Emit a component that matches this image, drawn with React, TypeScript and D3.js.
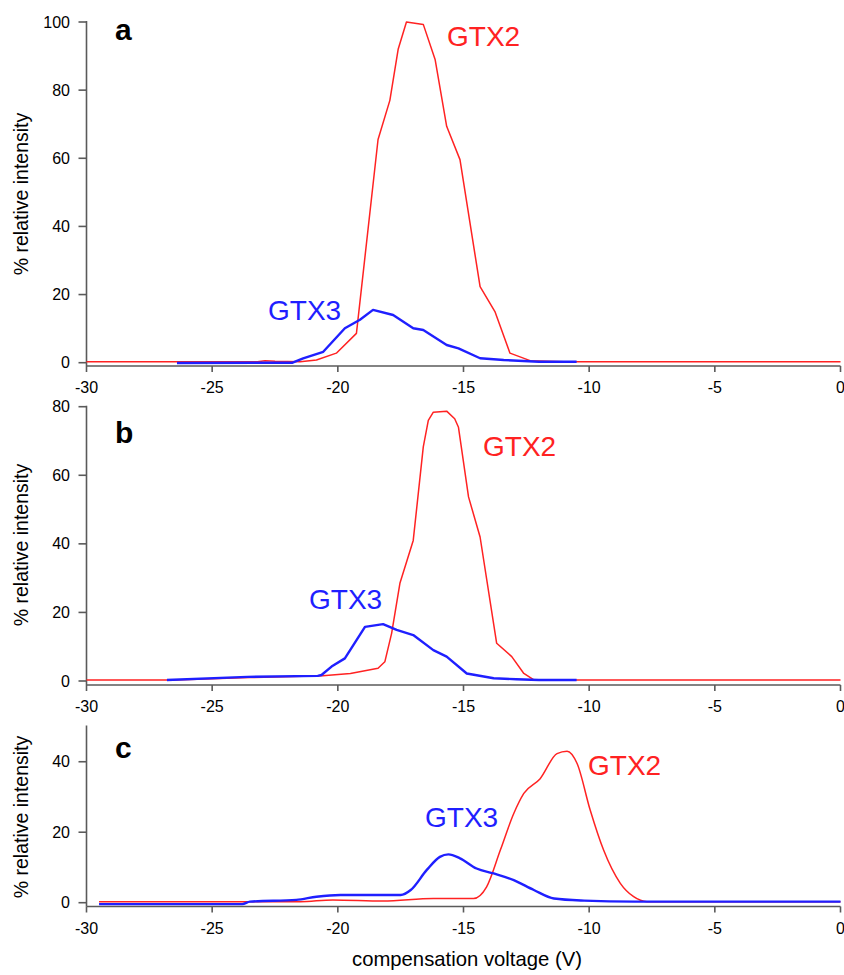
import React from "react";
import * as d3 from "d3";

type Pt = [number, number];

// Panel a
const gtx2A: Pt[] = [[-30,0.3],[-23.2,0.3],[-22.9,0.6],[-22.5,0.4],[-21.5,0.3],[-20.85,0.8],[-20.06,2.8],[-19.26,8.6],[-18.4,65.5],[-17.93,77],[-17.6,92],[-17.27,100],[-16.6,99.3],[-16.13,89],[-15.67,69.4],[-15.14,59.6],[-14.34,22.3],[-13.75,15],[-13.15,2.8],[-12.35,0.6],[-11,0.3],[0,0.3]];
const gtx3A: Pt[] = [[-26.4,-0.1],[-21.8,0.0],[-21.38,1.3],[-20.58,3.2],[-19.72,10.1],[-19.12,12.6],[-18.6,15.5],[-17.8,14],[-17.0,10.1],[-16.6,9.6],[-15.67,5.2],[-15.2,4.2],[-14.34,1.3],[-13.4,0.8],[-12,0.3],[-10.5,0.3]];
// Panel b
const gtx2B: Pt[] = [[-30,0.3],[-26.5,0.3],[-23.5,1.0],[-20.6,1.5],[-19.5,2.2],[-18.4,3.7],[-18.13,5.6],[-17.86,13.9],[-17.53,28.5],[-17.0,41],[-16.6,68.3],[-16.4,76],[-16.2,78.4],[-15.67,78.7],[-15.35,76.5],[-15.2,74],[-14.8,53.7],[-14.34,42],[-13.68,11],[-13.08,7.1],[-12.6,2.2],[-12.2,0.3],[0,0.3]];
const gtx3B: Pt[] = [[-26.8,0.3],[-23.6,1.2],[-20.8,1.5],[-20.65,1.75],[-20.25,4.2],[-19.72,6.6],[-18.92,15.8],[-18.2,16.6],[-17.66,14.9],[-17.0,13.4],[-16.2,9],[-15.67,7.1],[-14.87,2.2],[-13.8,0.8],[-12.9,0.5],[-12,0.3],[-10.5,0.3]];
// Panel c
const gtx2C: Pt[] = [[-29.5,0.3],[-21.5,0.3],[-20.2,0.8],[-18.2,0.5],[-16.2,1.2],[-14.6,1.2],[-14.08,4.5],[-13.53,15],[-13.0,25.3],[-12.6,31],[-11.95,35.2],[-11.28,42.3],[-10.88,43],[-10.48,39.5],[-9.96,26.3],[-9.43,15],[-8.76,5.5],[-8.23,1.7],[-7.7,0.3],[0,0.3]];
const gtx3C: Pt[] = [[-29.5,-0.4],[-23.8,-0.4],[-23.5,0.3],[-21.65,0.8],[-20.85,1.7],[-19.9,2.2],[-17.5,2.2],[-17.1,3.6],[-16.46,9.3],[-15.94,13],[-15.6,13.7],[-15.14,12.6],[-14.48,9.7],[-13.8,8.3],[-13.0,6.4],[-12.2,3.6],[-11.4,1.2],[-10.2,0.6],[-8.2,0.3],[0,0.3]];

const xTicks = [-30, -25, -20, -15, -10, -5, 0];
const yTicksA = [0, 20, 40, 60, 80, 100];
const yTicksB = [0, 20, 40, 60, 80];
const yTicksC = [0, 20, 40];
const panelLetters = ["a", "b", "c"];
const seriesNames = ["GTX2", "GTX3"];

const FONT = "'Liberation Sans', Arial, Helvetica, sans-serif";
const RED = "#ff2222";
const BLUE = "#1f1fff";
const AXIS = "#5a5a5a";

const x = d3.scaleLinear().domain([-30, 0]).range([86.5, 840.5]);

interface PanelSpec {
  letter: string;
  yMax: number;
  yTop: number;
  yZero: number;
  axisY: number;
  yTicks: number[];
  red: Pt[];
  blue: Pt[];
  smooth: boolean;
  redLabel: [number, number];
  blueLabel: [number, number];
  titleY: number;
}

const panels: PanelSpec[] = [
  { letter: panelLetters[0], yMax: 100, yTop: 22, yZero: 362.7, axisY: 366, yTicks: yTicksA, red: gtx2A, blue: gtx3A, smooth: false, redLabel: [447, 46], blueLabel: [268, 320], titleY: 194 },
  { letter: panelLetters[1], yMax: 80, yTop: 406.7, yZero: 681, axisY: 685, yTicks: yTicksB, red: gtx2B, blue: gtx3B, smooth: false, redLabel: [483, 456], blueLabel: [309, 609], titleY: 545 },
  { letter: panelLetters[2], yMax: 50, yTop: 726.5, yZero: 902.7, axisY: 906.5, yTicks: yTicksC, red: gtx2C, blue: gtx3C, smooth: true, redLabel: [588, 775], blueLabel: [425, 827], titleY: 817 },
];

const letterY = [40, 443, 758];

function Panel({ p, i }: { p: PanelSpec; i: number }) {
  const y = d3.scaleLinear().domain([0, p.yMax]).range([p.yZero, p.yTop]);
  const line = d3
    .line<Pt>()
    .x((d) => x(d[0]))
    .y((d) => y(d[1]))
    .curve(p.smooth ? d3.curveMonotoneX : d3.curveLinear);
  const x0 = x(-30);
  return (
    <g>
      {/* y axis */}
      <line x1={x0} x2={x0} y1={p.yTop - 1} y2={p.axisY} stroke={AXIS} strokeWidth={1.6} />
      {p.yTicks.map((t) => (
        <g key={"y" + t}>
          <line x1={x0 - 8} x2={x0} y1={y(t)} y2={y(t)} stroke={AXIS} strokeWidth={1.6} />
          <text x={70} y={y(t) + 5.5} textAnchor="end" fontSize={16} fontFamily={FONT} fill="#000">
            {t}
          </text>
        </g>
      ))}
      {/* x axis */}
      <line x1={x0} x2={x(0)} y1={p.axisY} y2={p.axisY} stroke={AXIS} strokeWidth={1.6} />
      {xTicks.map((t) => (
        <g key={"x" + t}>
          <line x1={x(t)} x2={x(t)} y1={p.axisY} y2={p.axisY + 6} stroke={AXIS} strokeWidth={1.6} />
          <text x={x(t)} y={p.axisY + 27} textAnchor="middle" fontSize={16} fontFamily={FONT} fill="#000">
            {t}
          </text>
        </g>
      ))}
      {/* y title */}
      <text
        transform={`translate(28,${p.titleY}) rotate(-90)`}
        textAnchor="middle"
        fontSize={19.5}
        fontFamily={FONT}
        fill="#000"
      >
        % relative intensity
      </text>
      {/* curves */}
      <path d={line(p.red) || ""} fill="none" stroke={RED} strokeWidth={1.5} strokeLinejoin="round" />
      <path d={line(p.blue) || ""} fill="none" stroke={BLUE} strokeWidth={2.4} strokeLinejoin="round" />
      {/* labels */}
      <text x={115} y={letterY[i]} fontSize={30} fontWeight="bold" fontFamily={FONT} fill="#000">
        {p.letter}
      </text>
      <text x={p.redLabel[0]} y={p.redLabel[1]} fontSize={28} fontFamily={FONT} fill={RED}>
        {seriesNames[0]}
      </text>
      <text x={p.blueLabel[0]} y={p.blueLabel[1]} fontSize={28} fontFamily={FONT} fill={BLUE}>
        {seriesNames[1]}
      </text>
    </g>
  );
}

export default function App() {
  return (
    <svg
      width={844}
      height={975}
      style={{ position: "absolute", left: 0, top: 0, display: "block", background: "#fff" }}
    >
      <rect width={844} height={975} fill="#fff" />
      {panels.map((p, i) => (
        <Panel key={p.letter} p={p} i={i} />
      ))}
      <text x={467} y={966} textAnchor="middle" fontSize={20.3} fontFamily={FONT} fill="#000">
        compensation voltage (V)
      </text>
    </svg>
  );
}
